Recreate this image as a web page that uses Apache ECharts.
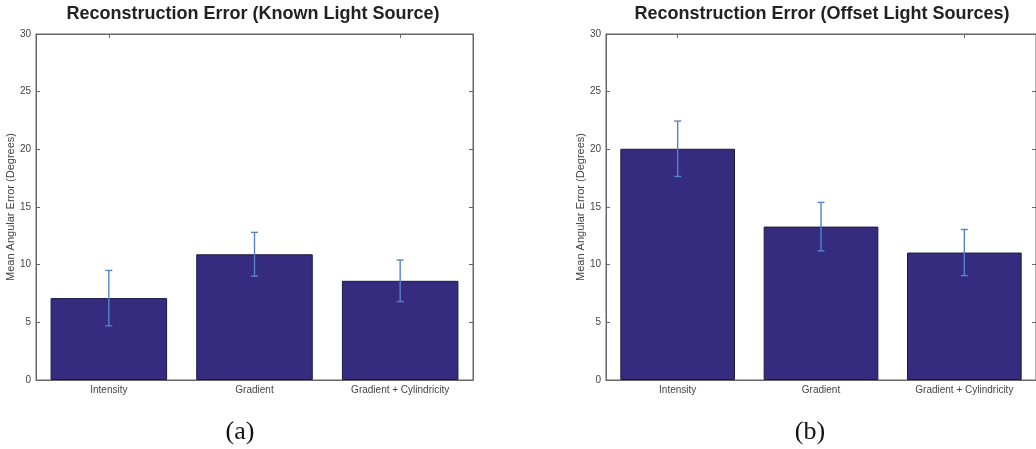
<!DOCTYPE html>
<html>
<head>
<meta charset="utf-8">
<script src="https://cdn.jsdelivr.net/npm/echarts@6/dist/echarts.min.js"></script>
<style>html,body{margin:0;padding:0;background:#fff;}#c{width:1036px;height:449px;}</style>
</head>
<body>
<div id="c"></div>
<script>
const categories = ['Intensity', 'Gradient', 'Gradient + Cylindricity'];
const knownMeans = [7.1, 10.9, 8.6];
const knownErr = [2.4, 1.9, 1.8];
const offsetMeans = [20.05, 13.3, 11.05];
const offsetErr = [2.4, 2.1, 2.0];
const yTicks = { min: 0, max: 30, interval: 5 };
const titles = ['Reconstruction Error (Known Light Source)', 'Reconstruction Error (Offset Light Sources)'];
const yName = 'Mean Angular Error (Degrees)';
const panelLabels = ['(a)', '(b)'];

const FONT = '"Liberation Sans", Arial, Helvetica, sans-serif';
const BAR = '#352c80';
const BAR_BORDER = '#1a1a44';
const ERR = '#5583c9';
const AXIS = '#666';
const TXT = '#444';

const grids = [
  { left: 36, right: 563, top: 34, bottom: 69, show: true, borderColor: AXIS, borderWidth: 1, backgroundColor: 'transparent' },
  { left: 606, right: -8, top: 34, bottom: 69, show: true, borderColor: AXIS, borderWidth: 1, backgroundColor: 'transparent' }
];

const chart = echarts.init(document.getElementById('c'), null, { renderer: 'canvas' });

const xAxis = [], yAxis = [], series = [];
[0, 1].forEach(function (g) {
  xAxis.push({
    type: 'category', gridIndex: g, data: categories, position: 'bottom',
    axisLine: { show: true, onZero: false, lineStyle: { color: AXIS, width: 1 } },
    axisTick: { show: true, inside: true, alignWithLabel: true, length: 4, lineStyle: { color: AXIS } },
    axisLabel: { color: TXT, fontFamily: FONT, fontSize: 10, margin: 5 },
    splitLine: { show: false }
  });
  xAxis.push({
    type: 'category', gridIndex: g, data: categories, position: 'top',
    axisLine: { show: true, onZero: false, lineStyle: { color: AXIS, width: 1 } },
    axisTick: { show: true, inside: true, alignWithLabel: true, length: 4, lineStyle: { color: AXIS } },
    axisLabel: { show: false },
    splitLine: { show: false }
  });
  yAxis.push({
    type: 'value', gridIndex: g, min: yTicks.min, max: yTicks.max, interval: yTicks.interval, position: 'left',
    name: yName, nameLocation: 'middle', nameGap: g === 0 ? 16 : 18, nameRotate: 90,
    nameTextStyle: { color: TXT, fontFamily: FONT, fontSize: 11 },
    axisLine: { show: true, onZero: false, lineStyle: { color: AXIS, width: 1 } },
    axisTick: { show: true, inside: true, length: 4, lineStyle: { color: AXIS } },
    axisLabel: { color: TXT, fontFamily: FONT, fontSize: 10, margin: 5 },
    splitLine: { show: false }
  });
  yAxis.push({
    type: 'value', gridIndex: g, min: yTicks.min, max: yTicks.max, interval: yTicks.interval, position: 'right',
    axisLine: { show: true, onZero: false, lineStyle: { color: AXIS, width: 1 } },
    axisTick: { show: true, inside: true, length: 4, lineStyle: { color: AXIS } },
    axisLabel: { show: false },
    splitLine: { show: false }
  });
});

function addPanel(g, means, errs) {
  series.push({
    type: 'bar', xAxisIndex: g * 2, yAxisIndex: g * 2, data: means,
    barCategoryGap: '20%',
    itemStyle: { color: BAR, borderColor: BAR_BORDER, borderWidth: 1 },
    silent: true, animation: false
  });
  series.push({
    type: 'custom', xAxisIndex: g * 2, yAxisIndex: g * 2,
    data: means.map(function (m, i) { return [i, m - errs[i], m + errs[i]]; }),
    renderItem: function (params, api) {
      const lo = api.coord([api.value(0), api.value(1)]);
      const hi = api.coord([api.value(0), api.value(2)]);
      const w = 3.5;
      const st = { stroke: ERR, lineWidth: 1.4, fill: null };
      return {
        type: 'group', children: [
          { type: 'line', shape: { x1: hi[0], y1: hi[1], x2: lo[0], y2: lo[1] }, style: st },
          { type: 'line', shape: { x1: hi[0] - w, y1: hi[1], x2: hi[0] + w, y2: hi[1] }, style: st },
          { type: 'line', shape: { x1: lo[0] - w, y1: lo[1], x2: lo[0] + w, y2: lo[1] }, style: st }
        ]
      };
    },
    z: 5, silent: true, animation: false
  });
}
addPanel(0, knownMeans, knownErr);
addPanel(1, offsetMeans, offsetErr);

const SERIF = '"Liberation Serif", "DejaVu Serif", serif';
chart.setOption({
  animation: false,
  backgroundColor: '#fff',
  title: [
    { text: titles[0], left: 253, top: 5, textAlign: 'center', padding: 0,
      textStyle: { fontFamily: FONT, fontSize: 18, fontWeight: 'bold', color: '#222' } },
    { text: titles[1], left: 822, top: 5, textAlign: 'center', padding: 0,
      textStyle: { fontFamily: FONT, fontSize: 18, fontWeight: 'bold', color: '#222' } },
    { text: panelLabels[0], left: 240, top: 419, textAlign: 'center', padding: 0,
      textStyle: { fontFamily: SERIF, fontSize: 26, fontWeight: 'normal', color: '#111' } },
    { text: panelLabels[1], left: 810, top: 419, textAlign: 'center', padding: 0,
      textStyle: { fontFamily: SERIF, fontSize: 26, fontWeight: 'normal', color: '#111' } }
  ],
  grid: grids,
  xAxis: xAxis,
  yAxis: yAxis,
  series: series
});
</script>
</body>
</html>
